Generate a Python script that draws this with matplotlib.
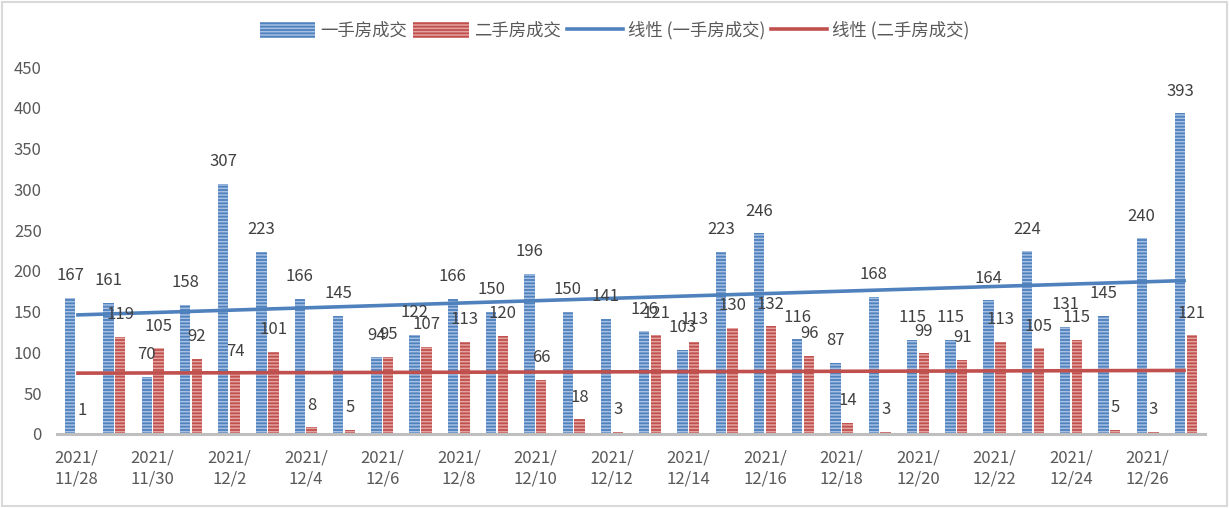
import matplotlib
matplotlib.use("Agg")
import matplotlib.pyplot as plt
import numpy as np
from matplotlib.patches import Rectangle
from matplotlib.lines import Line2D

plt.rcParams['font.family'] = ['Noto Sans CJK SC', 'DejaVu Sans']
plt.rcParams['hatch.linewidth'] = 1.1

# 日期 2021/11/28 - 2021/12/27
dates = ['11/28', '11/29', '11/30', '12/1', '12/2', '12/3', '12/4', '12/5', '12/6', '12/7',
         '12/8', '12/9', '12/10', '12/11', '12/12', '12/13', '12/14', '12/15', '12/16', '12/17',
         '12/18', '12/19', '12/20', '12/21', '12/22', '12/23', '12/24', '12/25', '12/26', '12/27']
new_home = [167, 161, 70, 158, 307, 223, 166, 145, 94, 122,
            166, 150, 196, 150, 141, 126, 103, 223, 246, 116,
            87, 168, 115, 115, 164, 224, 131, 145, 240, 393]
second_home = [1, 119, 105, 92, 74, 101, 8, 5, 95, 107,
               113, 120, 66, 18, 3, 121, 113, 130, 132, 96,
               14, 3, 99, 91, 113, 105, 115, 5, 3, 121]

blue = '#4F81BD'
blue_hatch = '#A7C0E3'
red = '#C0504D'
red_hatch = '#E3A3A1'
txt = '#404040'

fig = plt.figure(figsize=(12.29, 5.08), dpi=100)
ax = fig.add_axes([57 / 1229, 74 / 508, (1205 - 57) / 1229, 367 / 508])

x = np.arange(len(dates))
w = 0.27
off = 0.155
ax.bar(x - off, new_home, w, color=blue, edgecolor=blue_hatch, linewidth=0, hatch='-----')
ax.bar(x + off, second_home, w, color=red, edgecolor=red_hatch, linewidth=0, hatch='-----')

# 線性趨勢線
for vals, c in [(new_home, blue), (second_home, red)]:
    k, b = np.polyfit(x, vals, 1)
    ax.plot(x, k * x + b, color=c, lw=2.6, solid_capstyle='butt')

# 數據標籤
for i in range(len(x)):
    ax.annotate(str(new_home[i]), (x[i] - off, new_home[i]), xytext=(0, 16),
                textcoords='offset points', ha='center', va='center', fontsize=12, color=txt)
    ax.annotate(str(second_home[i]), (x[i] + off, second_home[i]), xytext=(0, 16),
                textcoords='offset points', ha='center', va='center', fontsize=12, color=txt)

ax.set_xlim(-0.5, len(x) - 0.5)
ax.set_ylim(0, 450)
ax.set_yticks(range(0, 451, 50))
ax.set_xticks(x[::2])
ax.set_xticklabels(['2021/\n' + d for d in dates[::2]], linespacing=1.3)
ax.tick_params(axis='both', length=0, labelsize=12, labelcolor='#595959')
ax.tick_params(axis='y', pad=11)
ax.tick_params(axis='x', pad=11)
for s in ['top', 'right', 'left']:
    ax.spines[s].set_visible(False)
ax.spines['bottom'].set_color('#BFBFBF')
ax.spines['bottom'].set_linewidth(2.2)

handles = [
    Rectangle((0, 0), 1, 1, facecolor=blue, edgecolor=blue_hatch, linewidth=0, hatch='-----'),
    Rectangle((0, 0), 1, 1, facecolor=red, edgecolor=red_hatch, linewidth=0, hatch='-----'),
    Line2D([0], [0], color=blue, lw=2.6),
    Line2D([0], [0], color=red, lw=2.6),
]
labels = ['一手房成交', '二手房成交', '线性 (一手房成交)', '线性 (二手房成交)']
leg = fig.legend(handles, labels, loc='center', bbox_to_anchor=(0.5, 0.94), ncol=4,
                 frameon=False, fontsize=12.5, handlelength=3.2, handleheight=1.1,
                 handletextpad=0.3, columnspacing=0.35, labelcolor='#595959')

# 外框
fig.add_artist(Rectangle((0.002, 0.003), 0.996, 0.994, transform=fig.transFigure,
                         fill=False, edgecolor='#D9D9D9', lw=1.5))

fig.savefig('out.png', dpi=100)
